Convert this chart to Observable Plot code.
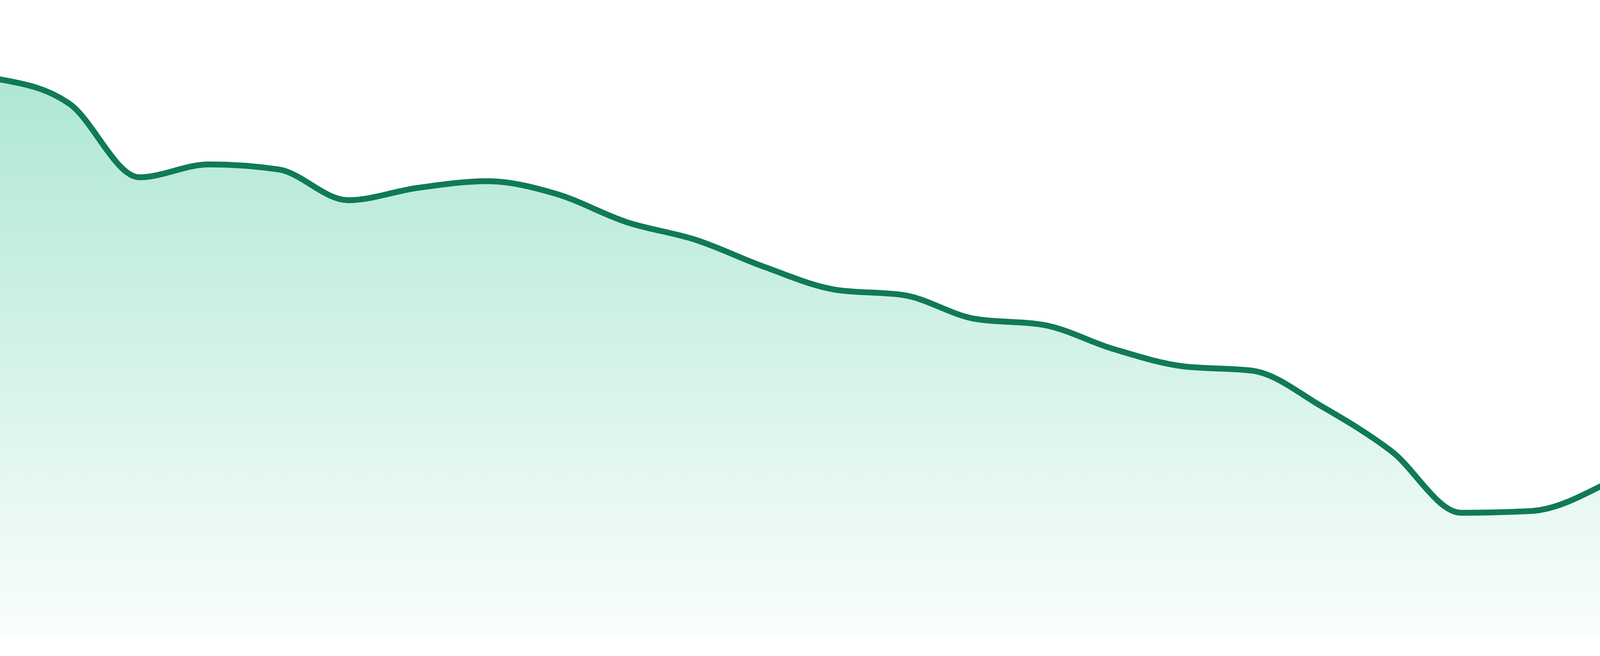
<!DOCTYPE html>
<html>
<head>
<meta charset="utf-8">
<script src="https://cdn.jsdelivr.net/npm/d3@7"></script>
<script src="https://cdn.jsdelivr.net/npm/@observablehq/plot@0.6"></script>
<style>
  html, body { margin: 0; padding: 0; background: #ffffff; overflow: hidden; }
  #chart svg { display: block; }
</style>
</head>
<body>
<div id="chart"></div>
<script>
// Data (24 evenly spaced samples)
const steps = d3.range(24);
const values = [
  99.8, 95.4, 82.3, 84.6, 83.7, 78.2, 80.4, 81.6,
  79.3, 74.3, 71.1, 66.2, 62.2, 61.2, 57.0, 55.9,
  51.6, 48.5, 47.7, 41.3, 33.3, 22.3, 22.6, 27.0
];
const data = steps.map((s, i) => ({ step: s, value: values[i] }));

const lineColor = "#107b52";
const W = window.innerWidth || 4800;
const H = 1680;

const chart = Plot.plot({
  width: W,
  height: H,
  marginTop: 200,
  marginBottom: 48,
  marginLeft: 0,
  marginRight: 0,
  style: { background: "#ffffff" },
  x: { domain: [0, 23], axis: null },
  y: { domain: [0, 100], axis: null },
  marks: [
    Plot.areaY(data, { x: "step", y: "value", curve: "monotone-x", fill: "url(#areaGrad)" }),
    Plot.lineY(data, { x: "step", y: "value", curve: "monotone-x", stroke: lineColor, strokeWidth: 15 })
  ]
});

// vertical gradient for the area fill
const ns = "http://www.w3.org/2000/svg";
const defs = document.createElementNS(ns, "defs");
const grad = document.createElementNS(ns, "linearGradient");
grad.setAttribute("id", "areaGrad");
grad.setAttribute("x1", "0"); grad.setAttribute("y1", "0");
grad.setAttribute("x2", "0"); grad.setAttribute("y2", "1");
[[0, 0.34], [1, 0.02]].forEach(([o, a]) => {
  const st = document.createElementNS(ns, "stop");
  st.setAttribute("offset", o);
  st.setAttribute("stop-color", "#10b981");
  st.setAttribute("stop-opacity", a);
  grad.appendChild(st);
});
defs.appendChild(grad);
chart.insertBefore(defs, chart.firstChild);

document.getElementById("chart").appendChild(chart);
</script>
</body>
</html>
